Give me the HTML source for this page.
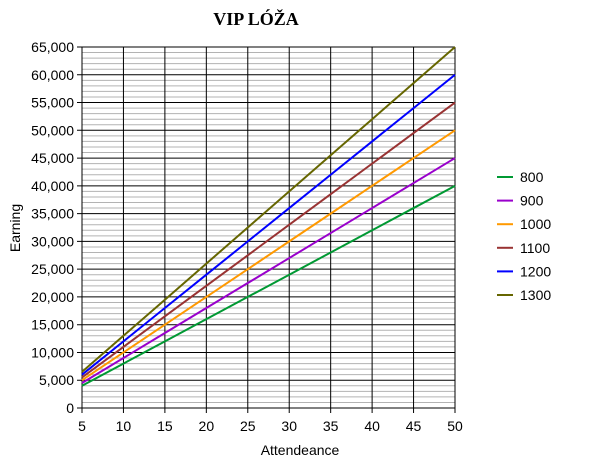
<!DOCTYPE html>
<html><head><meta charset="utf-8"><style>
body{margin:0;background:#fff;font-family:"Liberation Sans",sans-serif}
</style></head><body>
<svg id="c" width="600" height="463" style="display:block">
<text x="256" y="25" text-anchor="middle" font-family="Liberation Serif" font-weight="bold" font-size="18">VIP LÓŽA</text>
<text x="300" y="455" text-anchor="middle" font-size="14">Attendeance</text>
<text transform="translate(20,228) rotate(-90)" text-anchor="middle" font-size="14">Earning</text>
<g id="grid"></g><g id="lines"></g><g id="legend"></g>
</svg>
<script>
const attendance=[5,10,15,20,25,30,35,40,45,50];
const prices=[800,900,1000,1100,1200,1300];
const seriesNames=['800','900','1000','1100','1200','1300'];
const colors=['#009933','#9900cc','#ff9900','#993333','#0000ff','#666600'];
const yTicks=[0,5000,10000,15000,20000,25000,30000,35000,40000,45000,50000,55000,60000,65000];
const x0=82,x1=455,yTop=47,yBot=408;
const X=v=>x0+(v-5)/45*(x1-x0);
const Y=v=>yBot-v/65000*(yBot-yTop);
const ns='http://www.w3.org/2000/svg';
function mk(t,a,p){const e=document.createElementNS(ns,t);for(const k in a)e.setAttribute(k,a[k]);p.appendChild(e);return e;}
const g=document.getElementById('grid'),L=document.getElementById('lines'),lg=document.getElementById('legend');
for(let v=1000;v<65000;v+=1000){if(v%5000)mk('line',{x1:x0,x2:x1,y1:Y(v),y2:Y(v),stroke:'#b3b3b3','stroke-width':1},g);}
yTicks.forEach(v=>{
 const l=mk('line',{x1:x0-5,x2:x1,y1:Y(v),y2:Y(v),stroke:'#000','stroke-width':1},g);
 
 
 const t=mk('text',{x:x0-8,y:Y(v)+5,'text-anchor':'end','font-size':14},g);t.textContent=v.toLocaleString('en-US');
 
 
});
attendance.forEach(a=>{
 const l=mk('line',{x1:X(a),x2:X(a),y1:yTop,y2:yBot+5,stroke:'#000','stroke-width':1},g);
 
 
 const t=mk('text',{x:X(a),y:yBot+23,'text-anchor':'middle','font-size':14},g);t.textContent=a;
 
 
});
prices.forEach((p,i)=>{
 const pts=attendance.map(a=>X(a)+','+Y(a*p)).join(' ');
 const pl=mk('polyline',{points:pts,fill:'none',stroke:colors[i],'stroke-width':2},L);
 
 
 const yy=177+i*23.6;
 const ll=mk('line',{x1:497,x2:513,y1:yy,y2:yy,stroke:colors[i],'stroke-width':2},lg);
 
 
 const t=mk('text',{x:520,y:yy+5,'font-size':14},lg);t.textContent=seriesNames[i];
 
 
});
</script>
</body></html>
